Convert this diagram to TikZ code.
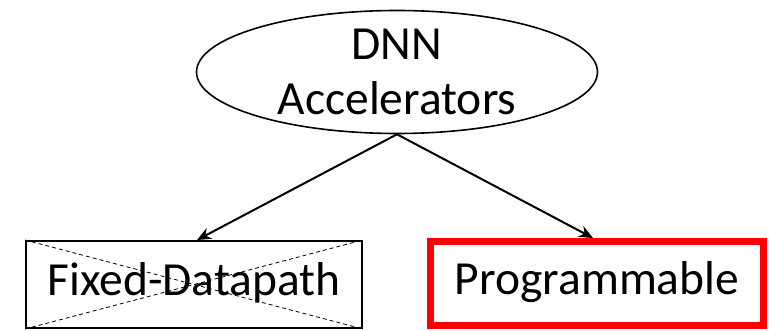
\documentclass[tikz,border=0pt]{standalone}
\usepackage{fontspec}
\setmainfont{Carlito}
\usetikzlibrary{shapes.geometric,arrows.meta}
\definecolor{hotred}{RGB}{255,0,0}
\tikzset{
  x=1pt, y=-1pt,
  label text/.style={font=\fontsize{47.5}{55}\selectfont, align=center, inner sep=0pt},
  rootnode/.style={ellipse, draw, line width=1.6pt, minimum width=401pt, minimum height=123pt, label text},
  plainbox/.style={rectangle, draw, line width=2pt, minimum width=336pt, minimum height=87pt, label text},
  chosenbox/.style={rectangle, draw=hotred, line width=7pt, minimum width=333pt, minimum height=84pt, label text},
  crossline/.style={dashed, line width=0.8pt, dash pattern=on 4pt off 3pt},
  link/.style={line width=2pt, -{Stealth[length=14pt,width=12pt]}}
}
\begin{document}
\begin{tikzpicture}
  \useasboundingbox (0,0) rectangle (772,331);
  % root of the taxonomy
  \node[rootnode] (root) at (397,72) {DNN\\Accelerators};
  % the two branches
  \node[plainbox] (fixed) at (194,284.5) {\strut Fixed-Datapath};
  \node[chosenbox] (prog) at (597,283.5) {\strut Programmable};
  % the fixed-datapath branch is struck out
  \draw[crossline] (fixed.north west) -- (fixed.south east);
  \draw[crossline] (fixed.south west) -- (fixed.north east);
  % connectors
  \draw[link] (root.south) -- ([xshift=3pt]fixed.north);
  \draw[link] (root.south) -- ([xshift=-4pt]prog.north);
\end{tikzpicture}
\end{document}
